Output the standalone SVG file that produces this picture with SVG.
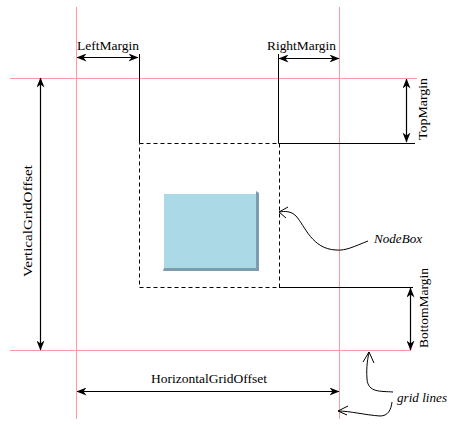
<svg xmlns="http://www.w3.org/2000/svg" width="453" height="425" viewBox="0 0 453 425">
<style>
.grid{stroke:#FF9A9A;stroke-width:1;fill:none}
.ln{stroke:#000;stroke-width:1;fill:none}
.dash{stroke:#000;stroke-width:1;fill:none;stroke-dasharray:4,3}
.arr{stroke:#000;stroke-width:1.2;fill:none;marker-start:url(#ah);marker-end:url(#ah)}
.crv{stroke:#000;stroke-width:1;fill:none}
.lbl{font-family:"Liberation Serif","Times New Roman",serif;font-size:13px;fill:#000}
.it{font-family:"Liberation Serif","Times New Roman",serif;font-size:13px;font-style:italic;fill:#000}
</style>
<defs>
<marker id="ah" viewBox="0 0 10 8" markerWidth="10" markerHeight="8" refX="9.5" refY="4" orient="auto-start-reverse" markerUnits="userSpaceOnUse">
<path d="M0,0 L10,4 L0,8 L3,4 z" fill="#000"/>
</marker>
</defs>
<rect width="453" height="425" fill="#fff"/>
<g id="gridlines">
<line class="grid" x1="76.5" y1="7" x2="76.5" y2="419"/>
<line class="grid" x1="339.5" y1="7" x2="339.5" y2="419"/>
<line class="grid" x1="10" y1="78.5" x2="417" y2="78.5"/>
<line class="grid" x1="10" y1="350.5" x2="411" y2="350.5"/>
</g>
<g id="marginbox">
<path class="ln" d="M139.5,54 V143"/>
<path class="ln" d="M278.5,54 V143.5 H415"/>
<path class="ln" d="M279,287.5 H413"/>
<rect class="dash" x="139.5" y="143.5" width="140" height="144"/>
</g>
<g id="nodebox">
<polygon points="256,191 259,193 259,271 163,271 164,268 256,268" fill="#7C9DAE"/>
<rect x="164" y="194" width="92" height="74" fill="#ABD9E5"/>
</g>
<g id="connectors">
<line class="arr" x1="77" y1="57.5" x2="138" y2="57.5"/>
<line class="arr" x1="279" y1="58.5" x2="339" y2="58.5"/>
<line class="arr" x1="406.5" y1="79" x2="406.5" y2="142"/>
<line class="arr" x1="410.5" y1="288" x2="410.5" y2="350"/>
<line class="arr" x1="40.5" y1="78" x2="40.5" y2="350"/>
<line class="arr" x1="77" y1="391.5" x2="339" y2="391.5"/>
<path class="crv" d="M368,241 C355,246 346,251 336,250 C312,249 305,226 296,216 C291,211 285,211 279,212"/>
<path class="crv" d="M288,207 L279,212 L286,218"/>
<path class="crv" d="M393,392 C381,391 368,393 367,379 C366,366 368,358 369,352"/>
<path class="crv" d="M363,362 L369,352 L374,363"/>
<path class="crv" d="M392,402 C391,410 388,416 380,416 C365,415 350,411 338,411"/>
<path class="crv" d="M348,406 L338,411 L347,415"/>
</g>
<g id="labels">
<text class="lbl" x="108" y="50" text-anchor="middle" textLength="62" lengthAdjust="spacingAndGlyphs">LeftMargin</text>
<text class="lbl" x="301.5" y="50" text-anchor="middle" textLength="69" lengthAdjust="spacingAndGlyphs">RightMargin</text>
<text class="lbl" x="209" y="383" text-anchor="middle" textLength="116" lengthAdjust="spacingAndGlyphs">HorizontalGridOffset</text>
<text class="lbl" transform="translate(427,109) rotate(-90)" text-anchor="middle" textLength="62" lengthAdjust="spacingAndGlyphs">TopMargin</text>
<text class="lbl" transform="translate(428,308) rotate(-90)" text-anchor="middle" textLength="80" lengthAdjust="spacingAndGlyphs">BottomMargin</text>
<text class="lbl" transform="translate(32,221) rotate(-90)" text-anchor="middle" textLength="112" lengthAdjust="spacingAndGlyphs">VerticalGridOffset</text>
<text class="it" x="374" y="243" textLength="48" lengthAdjust="spacingAndGlyphs">NodeBox</text>
<text class="it" x="397" y="402" textLength="50" lengthAdjust="spacingAndGlyphs">grid lines</text>
</g>
</svg>
